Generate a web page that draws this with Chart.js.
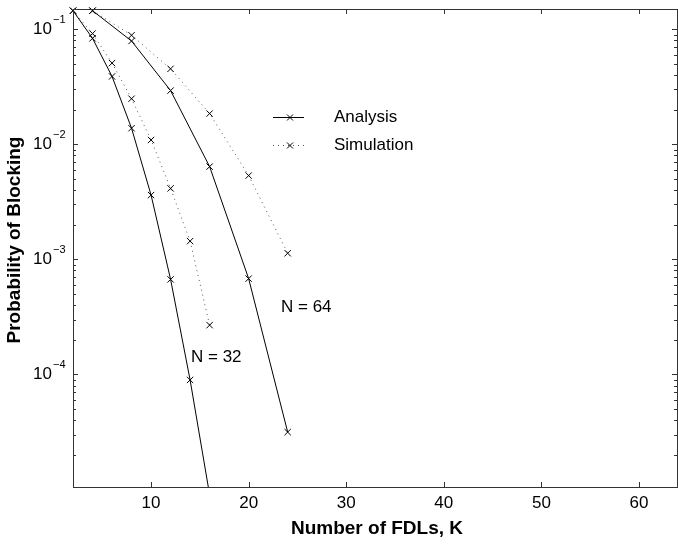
<!DOCTYPE html>
<html>
<head>
<meta charset="utf-8">
<script src="https://cdn.jsdelivr.net/npm/chart.js@4/dist/chart.umd.min.js"></script>
<style>
  html, body { margin: 0; padding: 0; background: #fff; }
  #wrap { width: 678px; height: 544px; }
</style>
</head>
<body>
<div id="wrap"><canvas id="blockingChart" width="678" height="544"></canvas></div>
<script>
// data
const k32 = [2, 4, 6, 8, 10, 12, 14, 16];
const analysis32 = [0.145, 0.0834, 0.0389, 0.0138, 0.00362, 0.00067, 0.0000895, 0.000009];
const simulation32 = [0.145, 0.0917, 0.0508, 0.0249, 0.0109, 0.00414, 0.00144, 0.000268];

const k64 = [4, 8, 12, 16, 20, 24];
const analysis64 = [0.145, 0.079, 0.0293, 0.0064, 0.00068, 0.0000315];
const simulation64 = [0.145, 0.0887, 0.0453, 0.0185, 0.00535, 0.00113];

const xTicks = [10, 20, 30, 40, 50, 60];
const yDecades = [-5, -4, -3, -2, -1];
const yLabelExps = [-1, -2, -3, -4];

const FONT = '"Liberation Sans", Arial, sans-serif';

function pts(xs, ys) {
    return xs.map((x, i) => ({ x: x, y: ys[i] }));
}

function makeSet(label, xs, ys, dotted) {
    return {
        label: label,
        data: pts(xs, ys),
        borderColor: dotted ? '#555' : '#000',
        borderWidth: 1,
        borderDash: dotted ? [1, 4] : [],
        pointStyle: 'crossRot',
        pointRadius: 4.5,
        pointBorderColor: '#000',
        pointBorderWidth: 1,
        pointHoverRadius: 4.5,
        fill: false,
        tension: 0,
        clip: { left: 8, top: 8, right: 0, bottom: 0 }
    };
}

// axes box, inward ticks, labels and legend drawn by hand (MATLAB look)
const matlabAxes = {
    id: 'matlabAxes',
    afterDraw(chart) {
        const ctx = chart.ctx;
        const a = chart.chartArea;
        const xs = chart.scales.x;
        const ys = chart.scales.y;
        ctx.save();
        ctx.strokeStyle = '#333';
        ctx.lineWidth = 1;
        ctx.strokeRect(Math.round(a.left) + 0.5, Math.round(a.top) + 0.5,
            Math.round(a.right - a.left) - 1, Math.round(a.bottom - a.top));

        ctx.beginPath();
        xTicks.forEach(v => {
            const px = Math.round(xs.getPixelForValue(v)) + 0.5;
            ctx.moveTo(px, a.bottom); ctx.lineTo(px, a.bottom - 5);
            ctx.moveTo(px, a.top); ctx.lineTo(px, a.top + 5);
        });
        yDecades.forEach(e => {
            for (let m = 1; m <= 9; m++) {
                const v = m * Math.pow(10, e);
                if (v < ys.min || v > ys.max) continue;
                const py = Math.round(ys.getPixelForValue(v)) + 0.5;
                const len = m === 1 ? 5 : 3;
                ctx.moveTo(a.left, py); ctx.lineTo(a.left + len, py);
                ctx.moveTo(a.right - 1, py); ctx.lineTo(a.right - 1 - len, py);
            }
        });
        ctx.stroke();

        ctx.fillStyle = '#000';
        ctx.font = '17px ' + FONT;
        ctx.textAlign = 'center';
        ctx.textBaseline = 'middle';
        xTicks.forEach(v => {
            ctx.fillText(String(v), xs.getPixelForValue(v), 503);
        });

        yLabelExps.forEach(e => {
            const py = ys.getPixelForValue(Math.pow(10, e));
            ctx.font = '17px ' + FONT;
            ctx.textAlign = 'right';
            ctx.textBaseline = 'middle';
            ctx.fillText('10', 52, py);
            ctx.font = '11px ' + FONT;
            ctx.textAlign = 'left';
            ctx.fillText('\u2212' + Math.abs(e), 53, py - 9);
        });

        ctx.font = 'bold 19px ' + FONT;
        ctx.textAlign = 'center';
        ctx.textBaseline = 'middle';
        ctx.fillText('Number of FDLs, K', 377, 529);
        ctx.save();
        ctx.translate(15, 240);
        ctx.rotate(-Math.PI / 2);
        ctx.fillText('Probability of Blocking', 0, 0);
        ctx.restore();

        // legend
        ctx.strokeStyle = '#000';
        ctx.beginPath();
        ctx.moveTo(273, 117.5); ctx.lineTo(304, 117.5);
        ctx.stroke();
        ctx.strokeStyle = '#555';
        ctx.setLineDash([1, 4]);
        ctx.beginPath();
        ctx.moveTo(273, 145.5); ctx.lineTo(306, 145.5);
        ctx.stroke();
        ctx.setLineDash([]);
        ctx.strokeStyle = '#000';
        [117.5, 145.5].forEach(y => {
            ctx.beginPath();
            ctx.moveTo(287, y - 3); ctx.lineTo(293, y + 3);
            ctx.moveTo(293, y - 3); ctx.lineTo(287, y + 3);
            ctx.stroke();
        });
        ctx.font = '17px ' + FONT;
        ctx.textAlign = 'left';
        ctx.fillText('Analysis', 334, 117);
        ctx.fillText('Simulation', 334, 145);

        ctx.fillText('N = 64', 281, 307);
        ctx.fillText('N = 32', 191, 357);
        ctx.restore();
    }
};

new Chart(document.getElementById('blockingChart').getContext('2d'), {
    type: 'line',
    data: {
        datasets: [
            makeSet('Analysis N=32', k32, analysis32, false),
            makeSet('Simulation N=32', k32, simulation32, true),
            makeSet('Analysis N=64', k64, analysis64, false),
            makeSet('Simulation N=64', k64, simulation64, true)
        ]
    },
    options: {
        responsive: false,
        animation: false,
        layout: { autoPadding: false, padding: { left: 73, top: 9, right: 0, bottom: 57 } },
        plugins: {
            legend: { display: false },
            tooltip: { enabled: false }
        },
        scales: {
            x: { type: 'linear', min: 2, max: 64, display: false },
            y: { type: 'logarithmic', min: 0.0000105, max: 0.15, display: false }
        }
    },
    plugins: [matlabAxes]
});
</script>
</body>
</html>
